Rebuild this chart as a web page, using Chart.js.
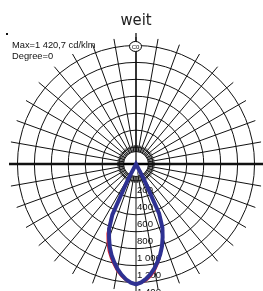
<!DOCTYPE html>
<html>
<head>
<meta charset="utf-8">
<script src="https://cdn.jsdelivr.net/npm/chart.js@4.4.1/dist/chart.umd.min.js"></script>
<style>
  html, body { margin: 0; padding: 0; background: #fff; }
  canvas { display: block; }
</style>
</head>
<body>
<canvas id="polarChart" width="263" height="291"></canvas>
<script>
// light distribution "weit" - cd/klm over gamma angle (0 = nadir)
const chartTitle = 'weit';
const infoLines = ['Max=1 420,7 cd/klm', 'Degree=0'];

const gammaAngles = [0, 2.5, 5, 7.5, 10, 12.5, 15, 17.5, 20, 22.5, 25, 27.5, 30];
// C90/C270 plane (blue), left and right half
const blueLeft  = [1421, 1402, 1367, 1317, 1258, 1188, 1115, 1030, 930, 830, 660, 200, 0];
const blueRight = [1421, 1400, 1362, 1312, 1252, 1180, 1105, 1020, 920, 815, 645, 195, 0];
// C0/C180 plane (red), left and right half
const redLeft   = [1421, 1407, 1382, 1341, 1287, 1220, 1154, 1082, 990, 890, 712, 215, 0];
const redRight  = [1421, 1411, 1385, 1342, 1284, 1206, 1120, 1030, 928, 845, 680, 200, 0];

const tickValues = [0, 200, 400, 600, 800, 1000, 1200, 1400];
const tickLabels = ['0', '200', '400', '600', '800', '1 000', '1 200', '1 400'];

const STEP = 2.5;
const N = 360 / STEP;
const angleLabels = [];
for (let i = 0; i < N; i++) angleLabels.push(i * STEP);

// index 0 points down, indices grow towards the left side
function planeData(left, right) {
    const out = new Array(N).fill(0);
    gammaAngles.forEach((g, i) => {
        const k = Math.round(g / STEP);
        out[k] = left[i];
        if (k > 0) out[N - k] = right[i];
    });
    return out;
}

const polarDecor = {
    id: 'polarDecor',
    beforeDatasetsDraw(chart) {
        const scale = chart.scales.r;
        const ctx = chart.ctx;
        const cx = scale.xCenter, cy = scale.yCenter;
        const hub = 12.5;
        const hubOuter = scale.getDistanceFromCenterForValue(200) + 2;

        ctx.save();
        // clear the hub and draw the hatched ring
        ctx.fillStyle = '#fff';
        ctx.beginPath();
        ctx.arc(cx, cy, hub, 0, Math.PI * 2);
        ctx.fill();
        ctx.strokeStyle = '#111';
        ctx.lineWidth = 1;
        ctx.beginPath();
        ctx.arc(cx, cy, hub, 0, Math.PI * 2);
        ctx.stroke();
        ctx.lineWidth = 0.8;
        for (let a = 0; a < 360; a += 5) {
            const rad = a * Math.PI / 180;
            ctx.beginPath();
            ctx.moveTo(cx + Math.cos(rad) * hub, cy + Math.sin(rad) * hub);
            ctx.lineTo(cx + Math.cos(rad) * hubOuter, cy + Math.sin(rad) * hubOuter);
            ctx.stroke();
        }
        // axis lines through the hub
        ctx.strokeStyle = '#000';
        ctx.lineWidth = 2.5;
        ctx.beginPath();
        ctx.moveTo(cx - hub, cy);
        ctx.lineTo(cx + hub, cy);
        ctx.stroke();
        ctx.lineWidth = 1.2;
        ctx.beginPath();
        ctx.moveTo(cx, cy);
        ctx.lineTo(cx, cy - scale.drawingArea - 4);
        ctx.stroke();

        // C0 marker on top
        const my = cy - scale.getDistanceFromCenterForValue(1400) + 1;
        ctx.lineWidth = 1;
        ctx.beginPath();
        ctx.ellipse(cx - 0.5, my, 6, 5, 0, 0, Math.PI * 2);
        ctx.fillStyle = '#fff';
        ctx.fill();
        ctx.stroke();
        ctx.fillStyle = '#111';
        ctx.font = '6px "Liberation Sans", Arial, sans-serif';
        ctx.textAlign = 'center';
        ctx.textBaseline = 'middle';
        ctx.fillText('C0', cx - 0.5, my + 0.5);

        // intensity labels down the nadir axis
        ctx.font = '9.6px "Liberation Sans", Arial, sans-serif';
        ctx.textAlign = 'left';
        ctx.textBaseline = 'alphabetic';
        ctx.fillStyle = '#111';
        tickValues.forEach((v, i) => {
            const d = scale.getDistanceFromCenterForValue(v);
            ctx.fillText(tickLabels[i], cx + 1, cy + d + 12);
        });
        ctx.restore();
    },
    afterDraw(chart) {
        const ctx = chart.ctx;
        ctx.save();
        ctx.fillStyle = '#222';
        ctx.font = '16.5px "Liberation Sans Narrow", "DejaVu Sans Condensed", sans-serif';
        ctx.textAlign = 'center';
        ctx.textBaseline = 'alphabetic';
        ctx.fillText(chartTitle, 136, 25);

        ctx.fillStyle = '#111';
        ctx.font = '9.3px "Liberation Sans", Arial, sans-serif';
        ctx.textAlign = 'left';
        ctx.fillText(infoLines[0], 12, 48);
        ctx.fillText(infoLines[1], 12, 59);
        ctx.fillRect(6, 33, 2, 2);
        ctx.restore();
    }
};

new Chart(document.getElementById('polarChart'), {
    type: 'radar',
    data: {
        labels: angleLabels,
        datasets: [
            {
                label: 'C90 - C270',
                data: planeData(blueLeft, blueRight),
                borderColor: '#2e3192',
                borderWidth: 4,
                fill: false,
                pointRadius: 0,
                tension: 0
            },
            {
                label: 'C0 - C180',
                data: planeData(redLeft, redRight),
                borderColor: '#e8202a',
                borderWidth: 1.5,
                fill: false,
                pointRadius: 0,
                tension: 0
            }
        ]
    },
    options: {
        responsive: false,
        animation: false,
        devicePixelRatio: 1,
        layout: { padding: { left: 9, right: 0, top: 37, bottom: 0 } },
        plugins: {
            legend: { display: false },
            tooltip: { enabled: false },
            title: { display: false }
        },
        scales: {
            r: {
                min: 0,
                max: 1500,
                startAngle: 180,
                ticks: { display: false, stepSize: 200, includeBounds: false },
                pointLabels: { display: false },
                grid: { circular: true, color: '#111', lineWidth: 1 },
                angleLines: {
                    color: '#111',
                    lineWidth: (ctx) => {
                        if (ctx.index % 4 !== 0) return 0;
                        return (ctx.index === N / 4 || ctx.index === 3 * N / 4) ? 2.5 : 1;
                    }
                }
            }
        }
    },
    plugins: [polarDecor]
});
</script>
</body>
</html>
